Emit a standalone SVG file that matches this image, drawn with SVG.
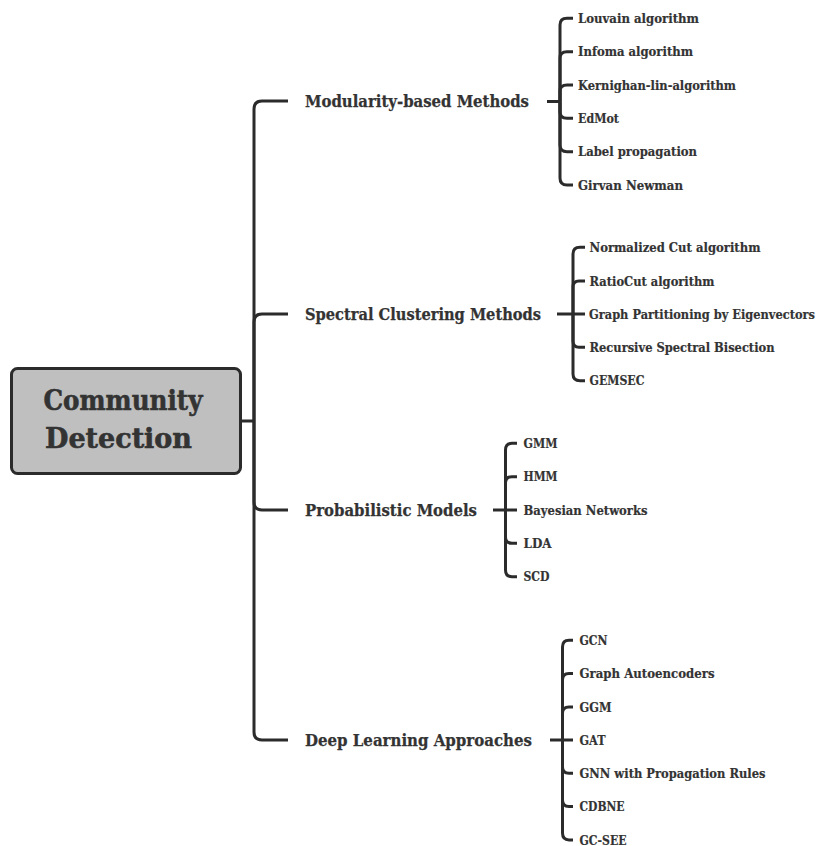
<svg xmlns="http://www.w3.org/2000/svg" width="819" height="846" viewBox="0 0 819 846">
<style>
.bg{fill:#ffffff}
.root{fill:#bfbfbf;stroke:#2b2b2b;stroke-width:3}
.c{fill:none;stroke:#2b2b2b;stroke-width:3;stroke-linecap:butt}
text{font-family:"DejaVu Serif","Liberation Serif",serif;font-weight:bold;fill:#333333}
.t0{font-size:28px;stroke:#333333;stroke-width:0.6}
.t1{font-size:16px;stroke:#333333;stroke-width:0.25}
.t2{font-size:13px;stroke:#333333;stroke-width:0.2}
</style>
<rect class="bg" x="0" y="0" width="819" height="846"/>
<g id="connectors">
<path class="c" d="M241,421 H254"/>
<path class="c" d="M254,421 V109 Q254,101 262,101 H288"/>
<path class="c" d="M254,421 V322 Q254,314 262,314 H288"/>
<path class="c" d="M254,421 V502 Q254,510 262,510 H288"/>
<path class="c" d="M254,421 V732 Q254,740 262,740 H288"/>
<path class="c" d="M547,101.5 H560"/>
<path class="c" d="M560,101.5 V25 Q560,18.3 567,18.3 H573"/>
<path class="c" d="M560,101.5 V58 Q560,51.7 567,51.7 H573"/>
<path class="c" d="M560,101.5 V91 Q560,85 567,85 H573"/>
<path class="c" d="M560,101.5 V112 Q560,118.3 567,118.3 H573"/>
<path class="c" d="M560,101.5 V145 Q560,151.7 567,151.7 H573"/>
<path class="c" d="M560,101.5 V178 Q560,185 567,185 H573"/>
<path class="c" d="M557,314 H585"/>
<path class="c" d="M573,314 V254 Q573,247.3 580,247.3 H585"/>
<path class="c" d="M573,314 V287 Q573,281 579,281 H585"/>
<path class="c" d="M573,314 V341 Q573,347.3 579,347.3 H585"/>
<path class="c" d="M573,314 V374 Q573,380.7 580,380.7 H585"/>
<path class="c" d="M493,510 H517"/>
<path class="c" d="M505.5,510 V450 Q505.5,443.3 512,443.3 H517"/>
<path class="c" d="M505.5,510 V483 Q505.5,476.7 512,476.7 H517"/>
<path class="c" d="M505.5,510 V537 Q505.5,543.3 512,543.3 H517"/>
<path class="c" d="M505.5,510 V570 Q505.5,576.7 512,576.7 H517"/>
<path class="c" d="M550,740 H573"/>
<path class="c" d="M562.5,740 V647 Q562.5,640.3 569,640.3 H573"/>
<path class="c" d="M562.5,740 V680 Q562.5,673.6 569,673.6 H573"/>
<path class="c" d="M562.5,740 V713 Q562.5,706.9 569,706.9 H573"/>
<path class="c" d="M562.5,740 V767 Q562.5,773.3 569,773.3 H573"/>
<path class="c" d="M562.5,740 V800 Q562.5,806.6 569,806.6 H573"/>
<path class="c" d="M562.5,740 V833 Q562.5,839.9 569,839.9 H573"/>
</g>
<g id="root">
<rect class="root" x="11.5" y="368.5" width="229" height="105" rx="6"/>
<text class="t0" x="43.5" y="410" textLength="159" lengthAdjust="spacingAndGlyphs">Community</text>
<text class="t0" x="45" y="447.5" textLength="147" lengthAdjust="spacingAndGlyphs">Detection</text>
</g>
<g id="modularity">
<text class="t1" x="305" y="106.8" textLength="224" lengthAdjust="spacingAndGlyphs">Modularity-based Methods</text>
</g>
<g id="spectral">
<text class="t1" x="305" y="319.8" textLength="236" lengthAdjust="spacingAndGlyphs">Spectral Clustering Methods</text>
</g>
<g id="probabilistic">
<text class="t1" x="305" y="515.8" textLength="172" lengthAdjust="spacingAndGlyphs">Probabilistic Models</text>
</g>
<g id="deep">
<text class="t1" x="305" y="745.8" textLength="227" lengthAdjust="spacingAndGlyphs">Deep Learning Approaches</text>
</g>
<g id="mod-items">
<g id="louvain"><text class="t2" x="578" y="23" textLength="121" lengthAdjust="spacingAndGlyphs">Louvain algorithm</text></g>
<g id="infoma"><text class="t2" x="578" y="56.4" textLength="115" lengthAdjust="spacingAndGlyphs">Infoma algorithm</text></g>
<g id="kernighan"><text class="t2" x="578" y="89.7" textLength="158" lengthAdjust="spacingAndGlyphs">Kernighan-lin-algorithm</text></g>
<g id="edmot"><text class="t2" x="578" y="123" textLength="41" lengthAdjust="spacingAndGlyphs">EdMot</text></g>
<g id="labelprop"><text class="t2" x="578" y="156.4" textLength="119" lengthAdjust="spacingAndGlyphs">Label propagation</text></g>
<g id="girvan"><text class="t2" x="578" y="189.7" textLength="105" lengthAdjust="spacingAndGlyphs">Girvan Newman</text></g>
</g>
<g id="spec-items">
<g id="ncut"><text class="t2" x="589.5" y="252" textLength="171" lengthAdjust="spacingAndGlyphs">Normalized Cut algorithm</text></g>
<g id="ratiocut"><text class="t2" x="589.5" y="285.7" textLength="125" lengthAdjust="spacingAndGlyphs">RatioCut algorithm</text></g>
<g id="eigen"><text class="t2" x="589" y="318.7" textLength="226" lengthAdjust="spacingAndGlyphs">Graph Partitioning by Eigenvectors</text></g>
<g id="rsb"><text class="t2" x="589.5" y="352" textLength="185" lengthAdjust="spacingAndGlyphs">Recursive Spectral Bisection</text></g>
<g id="gemsec"><text class="t2" x="589.5" y="385.4" textLength="55" lengthAdjust="spacingAndGlyphs">GEMSEC</text></g>
</g>
<g id="prob-items">
<g id="gmm"><text class="t2" x="523.5" y="448" textLength="34" lengthAdjust="spacingAndGlyphs">GMM</text></g>
<g id="hmm"><text class="t2" x="523.5" y="481.4" textLength="34" lengthAdjust="spacingAndGlyphs">HMM</text></g>
<g id="bayes"><text class="t2" x="523.5" y="514.7" textLength="124" lengthAdjust="spacingAndGlyphs">Bayesian Networks</text></g>
<g id="lda"><text class="t2" x="523.5" y="548" textLength="28" lengthAdjust="spacingAndGlyphs">LDA</text></g>
<g id="scd"><text class="t2" x="523.5" y="581.4" textLength="26" lengthAdjust="spacingAndGlyphs">SCD</text></g>
</g>
<g id="deep-items">
<g id="gcn"><text class="t2" x="579.5" y="645" textLength="28" lengthAdjust="spacingAndGlyphs">GCN</text></g>
<g id="gae"><text class="t2" x="579.5" y="678.3" textLength="135" lengthAdjust="spacingAndGlyphs">Graph Autoencoders</text></g>
<g id="ggm"><text class="t2" x="579.5" y="711.6" textLength="32" lengthAdjust="spacingAndGlyphs">GGM</text></g>
<g id="gat"><text class="t2" x="579.5" y="744.7" textLength="26" lengthAdjust="spacingAndGlyphs">GAT</text></g>
<g id="gnnprop"><text class="t2" x="579.5" y="778" textLength="186" lengthAdjust="spacingAndGlyphs">GNN with Propagation Rules</text></g>
<g id="cdbne"><text class="t2" x="579.5" y="811.3" textLength="45" lengthAdjust="spacingAndGlyphs">CDBNE</text></g>
<g id="gcsee"><text class="t2" x="579.5" y="844.6" textLength="47" lengthAdjust="spacingAndGlyphs">GC-SEE</text></g>
</g>
</svg>
